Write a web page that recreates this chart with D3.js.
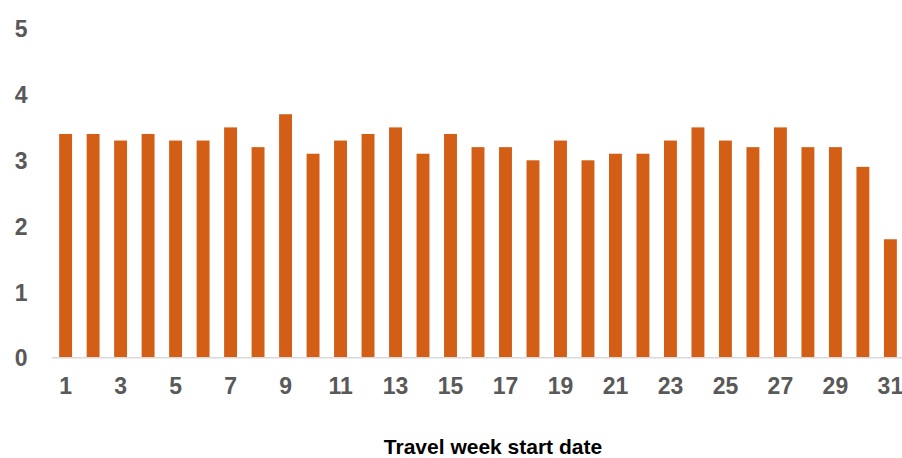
<!DOCTYPE html>
<html>
<head>
<meta charset="utf-8">
<script src="https://cdn.jsdelivr.net/npm/d3@7"></script>
<style>
  body { margin: 0; background: #fff; }
  svg { display: block; }
</style>
</head>
<body>
<div id="chart"></div>
<script>
// weeks 1..31 and the value read for each one
const weeks = d3.range(1, 32)
const values = [3.4, 3.4, 3.3, 3.4, 3.3, 3.3, 3.5, 3.2, 3.7, 3.1,
  3.3, 3.4, 3.5, 3.1, 3.4, 3.2, 3.2, 3.0, 3.3, 3.0,
  3.1, 3.1, 3.3, 3.5, 3.3, 3.2, 3.5, 3.2, 3.2, 2.9, 1.8]
const yTicks = [0, 1, 2, 3, 4, 5]
const xTitle = 'Travel week start date'

const width = 902
const height = 458
const margin = { top: 28.7, right: -2, bottom: 100.3, left: 52 }
const font = 'Liberation Sans, Arial, sans-serif'

const svg = d3.select('#chart').append('svg')
  .attr('width', width)
  .attr('height', height)

const x = d3.scaleBand()
  .domain(weeks)
  .range([margin.left, width - margin.right])
  .paddingInner(0.53)
  .paddingOuter(0.26)

const y = d3.scaleLinear()
  .domain([0, 5])
  .range([height - margin.bottom, margin.top])

// bars
svg.append('g')
  .selectAll('rect')
  .data(values)
  .enter()
  .append('rect')
  .attr('x', (d, i) => x(weeks[i]))
  .attr('y', d => y(d))
  .attr('width', x.bandwidth())
  .attr('height', d => y(0) - y(d))
  .attr('fill', '#D35F17')

// baseline
svg.append('line')
  .attr('x1', margin.left)
  .attr('x2', width)
  .attr('y1', y(0))
  .attr('y2', y(0))
  .attr('stroke', '#D9D9D9')
  .attr('stroke-width', 1.5)

// y labels, no axis line
const yAxis = svg.append('g')
  .attr('transform', 'translate(27.5,0)')
  .call(d3.axisLeft(y).tickValues(yTicks).tickSize(0).tickPadding(0).tickFormat(d3.format('d')))
yAxis.select('.domain').remove()
yAxis.selectAll('text')
  .style('font-family', font)
  .style('font-size', '23px')
  .style('font-weight', 'bold')
  .attr('fill', '#595959')
  .attr('dy', '0.36em')

// x labels, every other week
const xAxis = svg.append('g')
  .attr('transform', `translate(0,${y(0)})`)
  .call(d3.axisBottom(x).tickValues(weeks.filter(d => d % 2 === 1)).tickSize(0).tickPadding(20))
xAxis.select('.domain').remove()
xAxis.selectAll('text')
  .style('font-family', font)
  .style('font-size', '23px')
  .style('font-weight', 'bold')
  .attr('fill', '#595959')

svg.append('text')
  .attr('x', 493)
  .attr('y', 454)
  .attr('text-anchor', 'middle')
  .style('font-family', font)
  .style('font-size', '21px')
  .style('font-weight', 'bold')
  .attr('fill', '#000')
  .text(xTitle)
</script>
</body>
</html>
